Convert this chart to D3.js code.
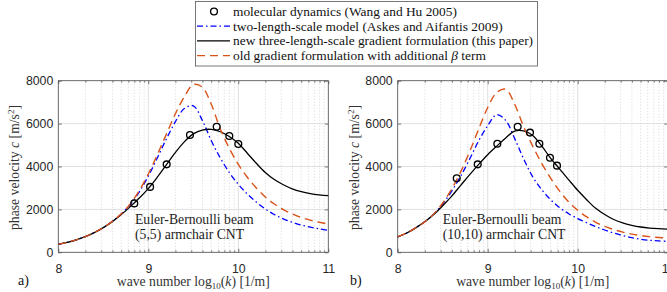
<!DOCTYPE html>
<html>
<head>
<meta charset="utf-8">
<script src="https://cdn.jsdelivr.net/npm/d3@7"></script>
<style>
  body { margin: 0; background: #fff; }
  svg { display: block; }
</style>
</head>
<body>
<div id="chart"></div>
<script>
// wave number grid, log10(k) with k in 1/m
const logK = [8.0, 8.1, 8.2, 8.3, 8.4, 8.5, 8.6, 8.7, 8.8, 8.9,
              9.0, 9.1, 9.2, 9.3, 9.4, 9.5, 9.6, 9.7, 9.8, 9.9,
              10.0, 10.1, 10.2, 10.3, 10.4, 10.5, 10.6, 10.7, 10.8, 10.9, 11.0];

// a) (5,5) armchair CNT, phase velocity in m/s
const leftTwoScale = [370, 460, 580, 730, 920, 1150, 1440, 1790, 2230, 2820,
                      3550, 4400, 5280, 6080, 6700, 6830, 6150, 5200, 4400, 3720,
                      3170, 2720, 2340, 2020, 1760, 1560, 1400, 1270, 1170, 1090, 1030];
const leftThreeScale = [370, 460, 580, 730, 920, 1150, 1430, 1760, 2130, 2530,
                        2970, 3500, 4080, 4650, 5150, 5520, 5700, 5730, 5620, 5400,
                        5080, 4620, 4150, 3720, 3390, 3150, 2960, 2830, 2740, 2680, 2640];
const leftOldGradient = [370, 460, 580, 730, 920, 1150, 1440, 1800, 2260, 2880,
                         3650, 4550, 5500, 6450, 7250, 7820, 7700, 6900, 5750, 4850,
                         4100, 3500, 3000, 2580, 2250, 1990, 1790, 1620, 1500, 1400, 1320];
const leftMdK = [8.844, 9.02, 9.204, 9.463, 9.76, 9.9, 10.0];
const leftMdC = [2280, 3050, 4100, 5470, 5850, 5420, 5050];

// b) (10,10) armchair CNT
const rightTwoScale = [720, 900, 1140, 1420, 1780, 2250, 2850, 3550, 4350, 5200,
                       5900, 6420, 6150, 5300, 4350, 3520, 2920, 2450, 2080, 1800,
                       1570, 1380, 1200, 1040, 900, 780, 680, 610, 560, 530, 510];
const rightThreeScale = [720, 900, 1140, 1420, 1760, 2170, 2620, 3120, 3620, 4100,
                         4550, 4950, 5330, 5650, 5660, 5450, 4960, 4380, 3880, 3380,
                         2890, 2450, 2050, 1760, 1530, 1370, 1260, 1180, 1130, 1100, 1080];
const rightOldGradient = [720, 900, 1140, 1420, 1780, 2300, 2950, 3750, 4700, 5750,
                          6750, 7450, 7600, 6900, 5850, 4950, 4150, 3450, 2850, 2350,
                          1960, 1650, 1400, 1210, 1060, 940, 850, 780, 730, 690, 660];
const rightMdK = [8.656, 8.889, 9.107, 9.333, 9.47, 9.574, 9.692, 9.77];
const rightMdC = [3450, 4100, 5060, 5850, 5580, 5060, 4410, 4040];

const xTickExponents = [8, 9, 10, 11];
const yTicks = [0, 2000, 4000, 6000, 8000];

const legendLabels = [
  "molecular dynamics (Wang and Hu 2005)",
  "two-length-scale model (Askes and Aifantis 2009)",
  "new three-length-scale gradient formulation (this paper)",
  "old gradient formulation with additional β term"
];

const width = 667, height = 292;
const plotW = 270, plotTop = 80.7, plotBottom = 252.3;
const serif = "'Liberation Serif', 'Times New Roman', serif";
const sans = "'Liberation Sans', Arial, sans-serif";

const style = {
  md: { stroke: "#000" },
  two: { stroke: "#0000ff", dash: "6,3,1.5,3", width: 1.3 },
  three: { stroke: "#000", dash: null, width: 1.3 },
  old: { stroke: "#d95319", dash: "8,5", width: 1.4 }
};

const panels = [
  { left: 58.3, letter: "a)", letterX: 18, noteX: 135,
    two: leftTwoScale, three: leftThreeScale, old: leftOldGradient,
    mdK: leftMdK, mdC: leftMdC,
    note: ["Euler-Bernoulli beam", "(5,5) armchair CNT"] },
  { left: 397.7, letter: "b)", letterX: 350, noteX: 442.7,
    two: rightTwoScale, three: rightThreeScale, old: rightOldGradient,
    mdK: rightMdK, mdC: rightMdC,
    note: ["Euler-Bernoulli beam", "(10,10) armchair CNT"] }
];

const svg = d3.select("#chart").append("svg")
  .attr("width", width)
  .attr("height", height)
  .attr("viewBox", [0, 0, width, height]);

const y = d3.scaleLinear().domain([0, 8000]).range([plotBottom, plotTop]);

panels.forEach((p) => {
  const x = d3.scaleLog().domain([1e8, 1e11]).range([p.left, p.left + plotW]);
  const g = svg.append("g");

  const majors = xTickExponents.map((e) => Math.pow(10, e));
  const minors = x.ticks().filter((k) => !majors.some((m) => Math.abs(m - k) / m < 1e-6));

  // minor grid (log decades), dotted
  g.append("g")
    .selectAll("line")
    .data(minors)
    .join("line")
    .attr("x1", (d) => x(d)).attr("x2", (d) => x(d))
    .attr("y1", plotTop).attr("y2", plotBottom)
    .attr("stroke", "#bdbdbd")
    .attr("stroke-width", 0.6)
    .attr("stroke-dasharray", "1,2");

  // major grid
  g.append("g")
    .selectAll("line")
    .data(majors)
    .join("line")
    .attr("x1", (d) => x(d)).attr("x2", (d) => x(d))
    .attr("y1", plotTop).attr("y2", plotBottom)
    .attr("stroke", "#e0e0e0");
  g.append("g")
    .selectAll("line")
    .data(yTicks)
    .join("line")
    .attr("x1", p.left).attr("x2", p.left + plotW)
    .attr("y1", (d) => y(d)).attr("y2", (d) => y(d))
    .attr("stroke", "#e0e0e0");

  // axes, ticks pointing inward
  const fmt = (k) => String(Math.round(Math.log10(k)));

  g.append("g").attr("transform", `translate(0,${plotBottom})`)
    .call(d3.axisBottom(x).tickValues(majors).tickFormat(fmt).tickSize(-3.5).tickPadding(11.5));
  g.append("g").attr("transform", `translate(0,${plotBottom})`)
    .call(d3.axisBottom(x).tickValues(minors).tickFormat("").tickSize(-2));
  g.append("g").attr("transform", `translate(0,${plotTop})`)
    .call(d3.axisTop(x).tickValues(majors).tickFormat("").tickSize(-3.5));
  g.append("g").attr("transform", `translate(0,${plotTop})`)
    .call(d3.axisTop(x).tickValues(minors).tickFormat("").tickSize(-2));
  g.append("g").attr("transform", `translate(${p.left},0)`)
    .call(d3.axisLeft(y).tickValues(yTicks).tickFormat(d3.format("d")).tickSize(-3.5).tickPadding(5));
  g.append("g").attr("transform", `translate(${p.left + plotW},0)`)
    .call(d3.axisRight(y).tickValues(yTicks).tickFormat("").tickSize(-3.5));

  g.selectAll(".domain").remove();
  g.selectAll(".tick line").attr("stroke", "#262626").attr("stroke-width", 0.6);
  g.selectAll(".tick text")
    .attr("font-family", sans)
    .attr("font-size", 12.3)
    .attr("fill", "#262626");

  // axes box
  g.append("rect")
    .attr("x", p.left).attr("y", plotTop)
    .attr("width", plotW).attr("height", plotBottom - plotTop)
    .attr("fill", "none")
    .attr("stroke", "#555")
    .attr("stroke-width", 0.8);

  // curves
  const line = (vals) => d3.line()
    .x((d, i) => x(Math.pow(10, logK[i])))
    .y((d) => y(d))
    .curve(d3.curveCatmullRom.alpha(0.5))(vals);

  [["two", p.two], ["three", p.three], ["old", p.old]].forEach(([key, vals]) => {
    g.append("path")
      .attr("d", line(vals))
      .attr("fill", "none")
      .attr("stroke", style[key].stroke)
      .attr("stroke-width", style[key].width)
      .attr("stroke-dasharray", style[key].dash);
  });

  // molecular dynamics points
  g.append("g")
    .selectAll("circle")
    .data(p.mdK)
    .join("circle")
    .attr("cx", (d) => x(Math.pow(10, d)))
    .attr("cy", (d, i) => y(p.mdC[i]))
    .attr("r", 3.4)
    .attr("fill", "none")
    .attr("stroke", style.md.stroke)
    .attr("stroke-width", 1.35);

  // annotation
  g.append("text")
    .attr("x", p.noteX).attr("y", 223.5)
    .attr("font-family", serif).attr("font-size", 13.7).attr("fill", "#222")
    .selectAll("tspan")
    .data(p.note)
    .join("tspan")
    .attr("x", p.noteX)
    .attr("dy", (d, i) => (i ? 15 : 0))
    .text((d) => d);

  // y label
  const yl = g.append("text")
    .attr("transform", `translate(${p.left - 39},${(plotTop + plotBottom) / 2 + 1}) rotate(-90)`)
    .attr("text-anchor", "middle")
    .attr("font-family", serif).attr("font-size", 13.7).attr("fill", "#333");
  yl.append("tspan").text("phase velocity ");
  yl.append("tspan").attr("font-style", "italic").text("c");
  yl.append("tspan").text(" [m/s");
  yl.append("tspan").attr("font-size", 9).attr("dy", -5).text("2");
  yl.append("tspan").attr("dy", 5).text("]");

  // x label
  const xl = g.append("text")
    .attr("x", p.left + plotW / 2).attr("y", 286)
    .attr("text-anchor", "middle")
    .attr("font-family", serif).attr("font-size", 13.7).attr("fill", "#333");
  xl.append("tspan").text("wave number log");
  xl.append("tspan").attr("font-size", 9).attr("dy", 3).text("10");
  xl.append("tspan").attr("dy", -3).text("(");
  xl.append("tspan").attr("font-style", "italic").text("k");
  xl.append("tspan").text(") [1/m]");

  // panel letter
  g.append("text")
    .attr("x", p.letterX).attr("y", 285)
    .attr("font-family", serif).attr("font-size", 14).attr("fill", "#111")
    .text(p.letter);
});

// legend
const legend = svg.append("g");
legend.append("rect")
  .attr("x", 195.5).attr("y", 1.5)
  .attr("width", 342).attr("height", 64.5)
  .attr("fill", "#fff")
  .attr("stroke", "#555")
  .attr("stroke-width", 0.8);

const keys = ["md", "two", "three", "old"];
const rowY = (i) => 11.5 + i * 14.7;
legendLabels.forEach((label, i) => {
  const key = keys[i];
  if (key === "md") {
    legend.append("circle")
      .attr("cx", 214).attr("cy", rowY(i)).attr("r", 3.4)
      .attr("fill", "none").attr("stroke", "#000").attr("stroke-width", 1.35);
  } else {
    legend.append("line")
      .attr("x1", 197).attr("x2", 230)
      .attr("y1", rowY(i)).attr("y2", rowY(i))
      .attr("stroke", style[key].stroke)
      .attr("stroke-width", style[key].width)
      .attr("stroke-dasharray", style[key].dash);
  }
  const t = legend.append("text")
    .attr("x", 233).attr("y", rowY(i) + 4.3)
    .attr("font-family", serif).attr("font-size", 13.4).attr("fill", "#111");
  const parts = label.split("β");
  t.append("tspan").text(parts[0]);
  if (parts.length > 1) {
    t.append("tspan").attr("font-style", "italic").text("β");
    t.append("tspan").text(parts[1]);
  }
});
</script>
</body>
</html>
